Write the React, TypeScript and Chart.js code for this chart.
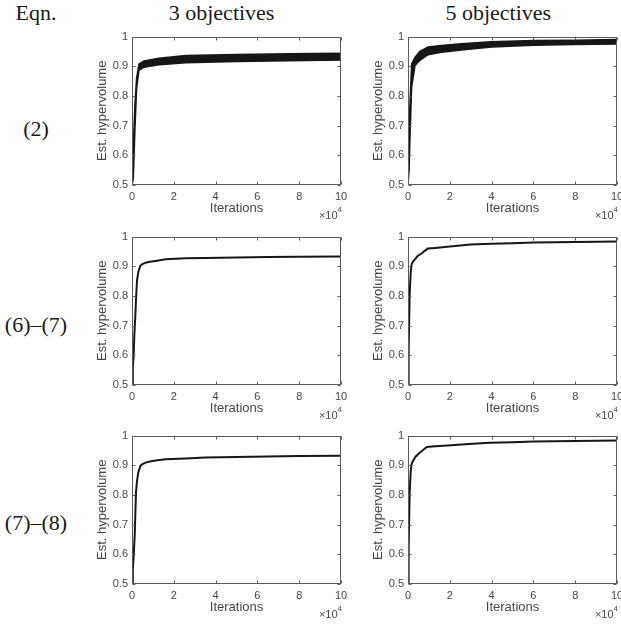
import React, { useEffect, useRef } from 'react';
import { Chart, registerables } from 'chart.js';

Chart.register(...registerables);

// Axis ticks shared by every panel
const iterTicks = [0, 20000, 40000, 60000, 80000, 100000];
const hvTicks = [0.5, 0.6, 0.7, 0.8, 0.9, 1];

// Eqn. (2), 3 objectives: noisy estimate drawn as a lower/upper envelope
const eq2Obj3Iter = [0, 600, 1400, 2200, 3350, 5700, 12900, 25700, 50000, 75000, 100000];
const eq2Obj3Low = [0.5, 0.52, 0.688, 0.826, 0.886, 0.897, 0.905, 0.912, 0.916, 0.919, 0.921];
const eq2Obj3High = [0.56, 0.63, 0.77, 0.86, 0.908, 0.918, 0.927, 0.936, 0.94, 0.942, 0.944];

// Eqn. (2), 5 objectives
const eq2Obj5Iter = [0, 500, 1100, 1750, 3350, 5700, 9600, 15900, 25500, 40000, 60000, 80000, 100000];
const eq2Obj5Low = [0.5, 0.55, 0.7, 0.831, 0.903, 0.92, 0.939, 0.947, 0.955, 0.965, 0.971, 0.973, 0.975];
const eq2Obj5High = [0.55, 0.7, 0.8, 0.908, 0.93, 0.95, 0.965, 0.97, 0.976, 0.983, 0.987, 0.988, 0.99];

// Eqns. (6)-(7), 3 and 5 objectives
const eq67Obj3Iter = [0, 400, 800, 1100, 1500, 2000, 2400, 3000, 4000, 5000, 6500, 8500, 11300, 16100, 25700, 35000, 50000, 65000, 80000, 100000];
const eq67Obj3Hv = [0.5, 0.56, 0.6, 0.665, 0.72, 0.8, 0.852, 0.88, 0.902, 0.907, 0.912, 0.915, 0.918, 0.9235, 0.927, 0.928, 0.93, 0.931, 0.932, 0.933];
const eq67Obj5Iter = [0, 300, 800, 1300, 1750, 2400, 3500, 4600, 6500, 8000, 9500, 13000, 20000, 30000, 40000, 50000, 60000, 80000, 100000];
const eq67Obj5Hv = [0.5, 0.62, 0.808, 0.88, 0.907, 0.916, 0.925, 0.935, 0.943, 0.952, 0.96, 0.962, 0.967, 0.973, 0.976, 0.978, 0.98, 0.982, 0.9835];

// Eqns. (7)-(8), 3 and 5 objectives
const eq78Obj3Iter = [0, 400, 800, 1300, 1900, 2400, 3000, 4000, 5000, 6500, 8500, 11300, 16100, 25700, 35000, 50000, 65000, 80000, 100000];
const eq78Obj3Hv = [0.5, 0.55, 0.595, 0.665, 0.808, 0.847, 0.875, 0.898, 0.904, 0.909, 0.913, 0.916, 0.92, 0.923, 0.926, 0.928, 0.93, 0.931, 0.932];
const eq78Obj5Iter = [0, 300, 800, 1300, 1750, 2200, 3500, 5000, 6500, 9000, 13000, 19000, 29000, 39000, 50000, 60000, 80000, 100000];
const eq78Obj5Hv = [0.5, 0.62, 0.81, 0.88, 0.905, 0.912, 0.928, 0.939, 0.947, 0.9615, 0.964, 0.967, 0.972, 0.976, 0.978, 0.98, 0.982, 0.9835];

// Text labels
const columnTitles = ['3 objectives', '5 objectives'];
const rowTitles = ['(2)', '(6)–(7)', '(7)–(8)'];

const LINE = '#161616';
const AXIS = '#5c5c5c';
const TEXT = '#474747';
const SANS = "'Liberation Sans', Arial, Helvetica, sans-serif";
const SERIF = "'Liberation Serif', 'Times New Roman', serif";

type Panel =
  | { kind: 'band'; iter: number[]; low: number[]; high: number[] }
  | { kind: 'line'; iter: number[]; hv: number[] };

const panels: Panel[][] = [
  [
    { kind: 'band', iter: eq2Obj3Iter, low: eq2Obj3Low, high: eq2Obj3High },
    { kind: 'band', iter: eq2Obj5Iter, low: eq2Obj5Low, high: eq2Obj5High },
  ],
  [
    { kind: 'line', iter: eq67Obj3Iter, hv: eq67Obj3Hv },
    { kind: 'line', iter: eq67Obj5Iter, hv: eq67Obj5Hv },
  ],
  [
    { kind: 'line', iter: eq78Obj3Iter, hv: eq78Obj3Hv },
    { kind: 'line', iter: eq78Obj5Iter, hv: eq78Obj5Hv },
  ],
];

const CANVAS_W = 267;
const CANVAS_H = 200;
const colLeft = [88, 364];
const rowTop = [26, 226, 425];

const toPoints = (xs: number[], ys: number[]) => xs.map((x, i) => ({ x, y: ys[i] }));

// Box with inward ticks on all four sides, plus the x10^4 exponent label
const boxAxes = {
  id: 'boxAxes',
  afterDatasetsDraw(chart: any) {
    const { ctx, chartArea } = chart;
    const xs = chart.scales.x;
    const ys = chart.scales.y;
    const l = Math.round(chartArea.left) + 0.5;
    const r = Math.round(chartArea.right) - 0.5;
    const t = Math.round(chartArea.top) + 0.5;
    const b = Math.round(chartArea.bottom) - 0.5;
    const tl = 3;
    ctx.save();
    ctx.strokeStyle = AXIS;
    ctx.lineWidth = 1;
    ctx.strokeRect(l, t, r - l, b - t);
    ctx.beginPath();
    iterTicks.forEach((v) => {
      const px = Math.round(xs.getPixelForValue(v)) + 0.5;
      ctx.moveTo(px, b);
      ctx.lineTo(px, b - tl);
      ctx.moveTo(px, t);
      ctx.lineTo(px, t + tl);
    });
    hvTicks.forEach((v) => {
      const py = Math.round(ys.getPixelForValue(v)) + 0.5;
      ctx.moveTo(l, py);
      ctx.lineTo(l + tl, py);
      ctx.moveTo(r, py);
      ctx.lineTo(r - tl, py);
    });
    ctx.stroke();

    ctx.fillStyle = TEXT;
    ctx.textBaseline = 'alphabetic';
    ctx.font = `8px ${SANS}`;
    const expW = ctx.measureText('4').width;
    ctx.textAlign = 'right';
    ctx.fillText('4', chartArea.right + 1, chartArea.bottom + 27);
    ctx.font = `11px ${SANS}`;
    ctx.fillText('×10', chartArea.right + 1 - expW, chartArea.bottom + 34);
    ctx.restore();
  },
};

function HvChart({ panel }: { panel: Panel }) {
  const ref = useRef<HTMLCanvasElement | null>(null);

  useEffect(() => {
    if (!ref.current) return;
    const datasets: any[] =
      panel.kind === 'band'
        ? [
            {
              data: toPoints(panel.iter, panel.low),
              borderColor: LINE,
              borderWidth: 1.5,
              pointRadius: 0,
              fill: false,
            },
            {
              data: toPoints(panel.iter, panel.high),
              borderColor: LINE,
              borderWidth: 1.5,
              pointRadius: 0,
              backgroundColor: LINE,
              fill: '-1',
            },
          ]
        : [
            {
              data: toPoints(panel.iter, panel.hv),
              borderColor: LINE,
              borderWidth: 2,
              pointRadius: 0,
              fill: false,
            },
          ];

    const chart = new Chart(ref.current, {
      type: 'line',
      data: { datasets },
      plugins: [boxAxes],
      options: {
        responsive: false,
        animation: false,
        devicePixelRatio: 1,
        layout: { padding: { left: 0, top: 8, right: 14, bottom: 0 } },
        plugins: { legend: { display: false }, tooltip: { enabled: false } },
        elements: { line: { tension: 0 } },
        scales: {
          x: {
            type: 'linear',
            min: 0,
            max: 100000,
            grid: { display: false, drawTicks: false },
            border: { display: false },
            afterBuildTicks: (s: any) => {
              s.ticks = iterTicks.map((value) => ({ value }));
            },
            afterFit: (s: any) => {
              s.height = 41;
            },
            ticks: {
              autoSkip: false,
              maxRotation: 0,
              padding: 5,
              color: TEXT,
              font: { family: SANS, size: 11 },
              callback: (v: any) => String(Math.round(Number(v) / 10000)),
            },
            title: {
              display: true,
              text: 'Iterations',
              color: TEXT,
              font: { family: SANS, size: 13 },
              padding: { top: 0, bottom: 10 },
            },
          },
          y: {
            type: 'linear',
            min: 0.5,
            max: 1,
            grid: { display: false, drawTicks: false },
            border: { display: false },
            afterBuildTicks: (s: any) => {
              s.ticks = hvTicks.map((value) => ({ value }));
            },
            afterFit: (s: any) => {
              s.width = 44;
            },
            ticks: {
              autoSkip: false,
              padding: 4,
              color: TEXT,
              font: { family: SANS, size: 11 },
              callback: (v: any) => String(Math.round(Number(v) * 10) / 10),
            },
            title: {
              display: true,
              text: 'Est. hypervolume',
              color: TEXT,
              font: { family: SANS, size: 13 },
              padding: { top: 7, bottom: 0 },
            },
          },
        },
      },
    });
    return () => chart.destroy();
  }, [panel]);

  return (
    <canvas
      ref={ref}
      width={CANVAS_W}
      height={CANVAS_H}
      style={{ display: 'block', width: CANVAS_W, height: CANVAS_H }}
    />
  );
}

const serifText: React.CSSProperties = {
  position: 'absolute',
  fontFamily: SERIF,
  fontSize: 22,
  lineHeight: '22px',
  color: '#1a1a1a',
  whiteSpace: 'nowrap',
  transform: 'translateX(-50%)',
};

export default function App() {
  const rowTextTop = [117.6, 314.4, 511.6];
  const colTextX = [221.6, 498.3];
  return (
    <div
      style={{
        position: 'fixed',
        left: 0,
        top: 0,
        width: 621,
        height: 626,
        overflow: 'hidden',
        background: '#ffffff',
      }}
    >
      <div style={{ ...serifText, left: 36, top: 2.3 }}>Eqn.</div>
      {columnTitles.map((t, i) => (
        <div key={t} style={{ ...serifText, left: colTextX[i], top: 2.3 }}>
          {t}
        </div>
      ))}
      {rowTitles.map((t, i) => (
        <div key={t} style={{ ...serifText, left: 36, top: rowTextTop[i] }}>
          {t}
        </div>
      ))}
      {panels.map((row, ri) =>
        row.map((panel, ci) => (
          <div
            key={`${ri}-${ci}`}
            style={{ position: 'absolute', left: colLeft[ci], top: rowTop[ri], width: CANVAS_W, height: CANVAS_H }}
          >
            <HvChart panel={panel} />
          </div>
        ))
      )}
    </div>
  );
}
